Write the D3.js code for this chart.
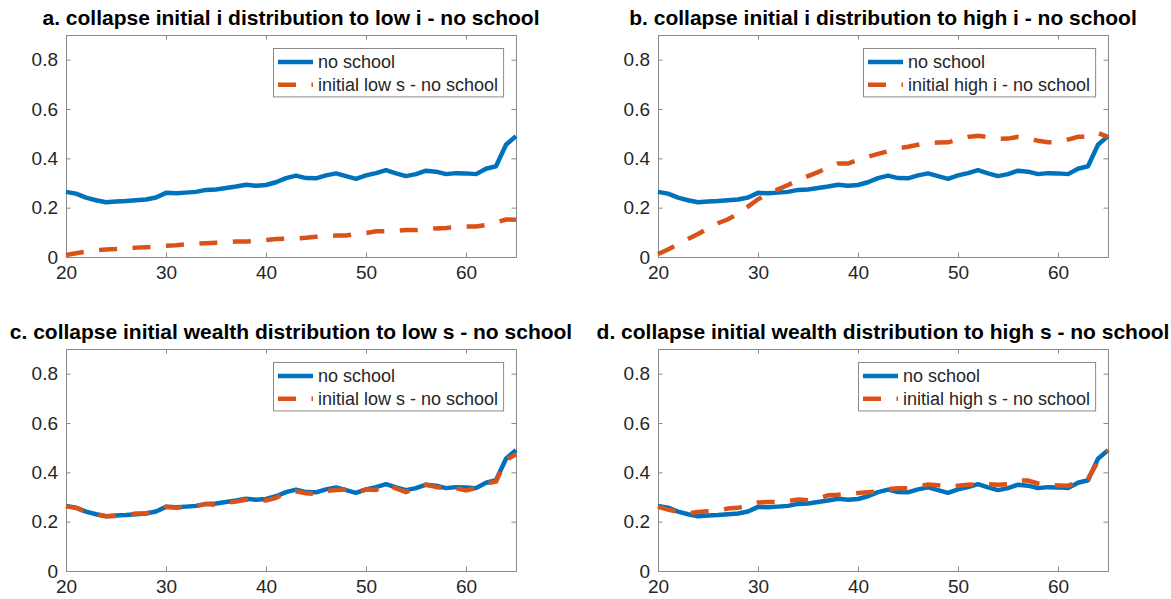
<!DOCTYPE html>
<html>
<head>
<meta charset="utf-8">
<script src="https://cdn.jsdelivr.net/npm/d3@7"></script>
<style>
  html, body { margin: 0; padding: 0; background: #fff; }
  svg { display: block; font-family: "Liberation Sans", Arial, Helvetica, sans-serif; }
</style>
</head>
<body>
<svg id="chart" width="1171" height="599"></svg>
<script>
// ages on the x axis
var ages = [20, 21, 22, 23, 24, 25, 26, 27, 28, 29,
            30, 31, 32, 33, 34, 35, 36, 37, 38, 39,
            40, 41, 42, 43, 44, 45, 46, 47, 48, 49,
            50, 51, 52, 53, 54, 55, 56, 57, 58, 59,
            60, 61, 62, 63, 64, 65];

// baseline "no school", same in every panel
var noSchool = [0.264, 0.257, 0.241, 0.230, 0.222, 0.225, 0.227, 0.230, 0.233, 0.241,
                0.260, 0.258, 0.261, 0.264, 0.272, 0.274, 0.280, 0.286, 0.293, 0.289,
                0.292, 0.303, 0.320, 0.330, 0.320, 0.319, 0.331, 0.339, 0.328, 0.317,
                0.331, 0.340, 0.352, 0.339, 0.328, 0.336, 0.350, 0.346, 0.336, 0.340,
                0.339, 0.336, 0.358, 0.368, 0.455, 0.490];

var lowI = [0.008, 0.015, 0.022, 0.027, 0.030, 0.032, 0.035, 0.038, 0.040, 0.042,
            0.046, 0.048, 0.051, 0.054, 0.056, 0.058, 0.060, 0.063, 0.063, 0.065,
            0.069, 0.073, 0.074, 0.075, 0.078, 0.082, 0.085, 0.087, 0.087, 0.093,
            0.097, 0.104, 0.105, 0.106, 0.109, 0.109, 0.113, 0.116, 0.118, 0.122,
            0.124, 0.124, 0.130, 0.140, 0.152, 0.151];

var highI = [0.012, 0.030, 0.052, 0.073, 0.093, 0.116, 0.137, 0.153, 0.176, 0.204,
             0.234, 0.257, 0.274, 0.292, 0.311, 0.328, 0.344, 0.362, 0.379, 0.379,
             0.393, 0.406, 0.418, 0.429, 0.440, 0.447, 0.455, 0.461, 0.464, 0.465,
             0.476, 0.487, 0.491, 0.486, 0.479, 0.480, 0.487, 0.483, 0.471, 0.465,
             0.465, 0.476, 0.487, 0.487, 0.503, 0.487];

var lowS = [0.262, 0.256, 0.240, 0.230, 0.222, 0.223, 0.227, 0.233, 0.234, 0.241,
            0.260, 0.256, 0.260, 0.263, 0.272, 0.268, 0.277, 0.282, 0.289, 0.289,
            0.286, 0.296, 0.318, 0.323, 0.315, 0.313, 0.325, 0.328, 0.330, 0.318,
            0.330, 0.328, 0.350, 0.335, 0.320, 0.335, 0.350, 0.340, 0.336, 0.336,
            0.327, 0.336, 0.354, 0.363, 0.450, 0.473];

var highS = [0.260, 0.249, 0.240, 0.234, 0.239, 0.242, 0.245, 0.253, 0.256, 0.265,
             0.278, 0.280, 0.280, 0.283, 0.290, 0.287, 0.292, 0.307, 0.309, 0.312,
             0.316, 0.319, 0.322, 0.332, 0.335, 0.336, 0.342, 0.351, 0.348, 0.340,
             0.346, 0.350, 0.352, 0.352, 0.350, 0.352, 0.366, 0.367, 0.355, 0.348,
             0.347, 0.346, 0.360, 0.374, 0.444, 0.491];

var titles = [
  "a. collapse initial i distribution to low i - no school",
  "b. collapse initial i distribution to high i - no school",
  "c. collapse initial wealth distribution to low s - no school",
  "d. collapse initial wealth distribution to high s - no school"
];
var altLabels = [
  "initial low s - no school",
  "initial high i - no school",
  "initial low s - no school",
  "initial high s - no school"
];
var altSeries = [lowI, highI, lowS, highS];
var baseLabel = "no school";

var xTicks = [20, 30, 40, 50, 60];
var yTicks = [0, 0.2, 0.4, 0.6, 0.8];

var BLUE = "#0072BD", ORANGE = "#D95319";
var AX = "#8a8a8a", TXT = "#262626";

var svg = d3.select("#chart");
var lefts = [66, 658], tops = [35, 349];
var W = 450, H = 222;

titles.forEach(function(title, k) {
  var col = k % 2, row = Math.floor(k / 2);
  var g = svg.append("g").attr("transform", "translate(" + lefts[col] + "," + tops[row] + ")");

  var x = d3.scaleLinear().domain([20, 65]).range([0, W]);
  var y = d3.scaleLinear().domain([0, 0.9]).range([H, 0]);

  // ticks inward on all four sides
  var tl = 4.5;
  g.append("g").attr("transform", "translate(0," + H + ")")
    .call(d3.axisBottom(x).tickValues(xTicks).tickSizeInner(-tl).tickSizeOuter(0).tickPadding(9));
  g.append("g")
    .call(d3.axisTop(x).tickValues(xTicks).tickSizeInner(-tl).tickSizeOuter(0).tickFormat(""));
  g.append("g")
    .call(d3.axisLeft(y).tickValues(yTicks).tickSizeInner(-tl).tickSizeOuter(0).tickPadding(8)
      .tickFormat(function(d) { return d === 0 ? "0" : d3.format(".1f")(d); }));
  g.append("g").attr("transform", "translate(" + W + ",0)")
    .call(d3.axisRight(y).tickValues(yTicks).tickSizeInner(-tl).tickSizeOuter(0).tickFormat(""));

  g.selectAll(".domain").remove();
  g.selectAll(".tick line").attr("stroke", AX).attr("stroke-width", 1);
  g.selectAll(".tick text").attr("fill", TXT).style("font-size", "19px");

  g.append("rect").attr("x", 0.5).attr("y", 0.5).attr("width", W).attr("height", H)
    .attr("fill", "none").attr("stroke", AX).attr("stroke-width", 1);

  var line = d3.line().x(function(d, i) { return x(ages[i]); }).y(function(d) { return y(d); });

  g.append("path").datum(noSchool).attr("d", line)
    .attr("fill", "none").attr("stroke", BLUE).attr("stroke-width", 4.5)
    .attr("stroke-linejoin", "round");
  g.append("path").datum(altSeries[k]).attr("d", line)
    .attr("fill", "none").attr("stroke", ORANGE).attr("stroke-width", 4.5)
    .attr("stroke-dasharray", "18,15.5");

  // title
  g.append("text").attr("x", W / 2).attr("y", -10)
    .attr("text-anchor", "middle").attr("fill", "#000")
    .style("font-size", "21px").style("font-weight", "bold")
    .text(title);

  // legend
  var lg = g.append("g");
  var box = lg.append("rect").attr("fill", "#fff").attr("stroke", AX).attr("stroke-width", 1);
  var t1 = lg.append("text").attr("x", 45).attr("y", 14).attr("dy", "0.35em")
    .attr("fill", TXT).style("font-size", "18px").text(baseLabel);
  var t2 = lg.append("text").attr("x", 45).attr("y", 36.7).attr("dy", "0.35em")
    .attr("fill", TXT).style("font-size", "18px").text(altLabels[k]);
  lg.append("line").attr("x1", 5).attr("x2", 40).attr("y1", 14).attr("y2", 14)
    .attr("stroke", BLUE).attr("stroke-width", 4.5);
  lg.append("line").attr("x1", 5).attr("x2", 40).attr("y1", 36.7).attr("y2", 36.7)
    .attr("stroke", ORANGE).attr("stroke-width", 4.5).attr("stroke-dasharray", "18,15.5");

  var tw = Math.max(t1.node().getComputedTextLength(), t2.node().getComputedTextLength());
  var bw = 45 + tw + 5, bh = 48.4;
  box.attr("x", 0.5).attr("y", 0.5).attr("width", bw).attr("height", bh);
  lg.attr("transform", "translate(" + Math.round(W - 13 - bw) + ",13)");
});
</script>
</body>
</html>
